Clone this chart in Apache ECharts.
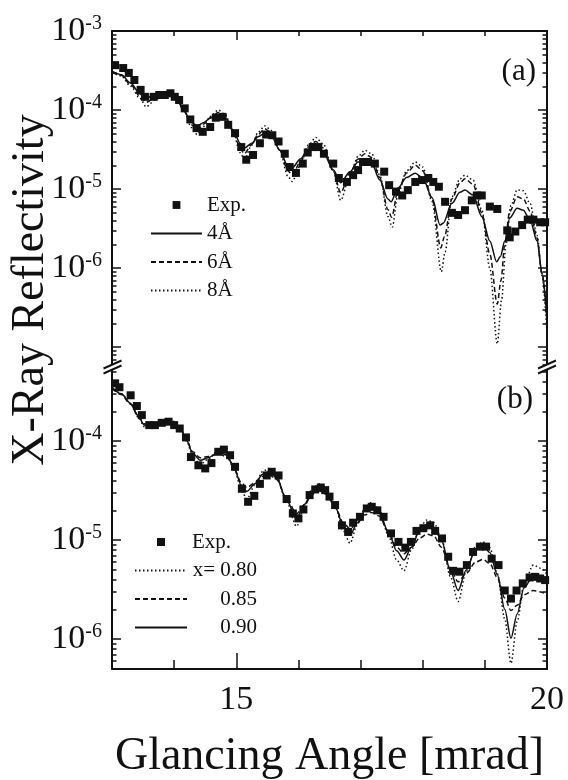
<!DOCTYPE html>
<html>
<head>
<meta charset="utf-8">
<title>X-Ray Reflectivity</title>
<script src="https://cdn.jsdelivr.net/npm/echarts@6.0.0/dist/echarts.min.js"></script>
<style>
  html, body { margin: 0; padding: 0; background: #fff; }
  #chart { width: 568px; height: 780px; }
</style>
</head>
<body>
<div id="chart"></div>
<script>
var FONT = '"Liberation Serif", "Times New Roman", serif';
var INK = '#111';

// ticks on the glancing angle axis
var xMajor = [15, 20];
var xMinor = [14, 16, 17, 18, 19];

// decades on the reflectivity axes
var yLabelsA = [1e-3, 1e-4, 1e-5, 1e-6];
var yMajorA = [1e-3, 1e-4, 1e-5, 1e-6, 1e-7];
var yLabelsB = [1e-4, 1e-5, 1e-6];
var yMajorB = [1e-4, 1e-5, 1e-6];
var yRangeA = [5.6e-8, 1.0005e-3];
var yRangeB = [5e-7, 5.6e-4];

// (a) measured points
var expA = [
  [13.05,3.7e-4],[13.18,3.4e-4],[13.27,2.95e-4],[13.36,2.4e-4],[13.46,1.8e-4],[13.53,1.47e-4],
  [13.67,1.47e-4],[13.76,1.55e-4],[13.85,1.55e-4],[13.94,1.63e-4],[14.01,1.47e-4],[14.08,1.34e-4],
  [14.17,1.05e-4],[14.26,7.6e-5],[14.36,5.9e-5],[14.46,5.3e-5],[14.58,6.1e-5],[14.67,8.0e-5],
  [14.78,8.2e-5],[14.87,6.5e-5],[14.98,5.1e-5],[15.08,3.4e-5],[15.16,2.35e-5],[15.27,2.7e-5],
  [15.38,3.8e-5],[15.48,4.9e-5],[15.58,4.8e-5],[15.68,4.0e-5],[15.78,2.8e-5],[15.86,1.9e-5],
  [15.96,1.6e-5],[16.07,2.1e-5],[16.15,2.9e-5],[16.23,3.4e-5],[16.32,3.4e-5],[16.41,2.8e-5],
  [16.56,2.1e-5],[16.65,1.38e-5],[16.78,1.23e-5],[16.88,1.5e-5],[16.96,1.74e-5],[17.04,2.2e-5],
  [17.12,2.2e-5],[17.23,2.1e-5],[17.38,1.66e-5],[17.46,1.12e-5],[17.57,9.3e-6],[17.67,8.3e-6],
  [17.76,9.7e-6],[17.88,1.23e-5],[17.99,1.3e-5],[18.09,1.38e-5],[18.17,1.23e-5],[18.26,1.07e-5],
  [18.36,6.9e-6],[18.47,5.0e-6],[18.57,4.7e-6],[18.68,5.4e-6],[18.79,7.2e-6],[18.87,8.3e-6],
  [18.95,8.3e-6],[19.08,6.0e-6],[19.20,5.6e-6],[19.36,3.0e-6],[19.40,2.45e-6],[19.49,2.9e-6],
  [19.60,3.5e-6],[19.69,4.1e-6],[19.78,4.1e-6],[19.89,3.8e-6],[19.97,3.8e-6]
];
// (a) fits, 4, 6 and 8 Angstrom
var fit4 = [
  [13.0,3.1e-4],[13.15,2.8e-4],[13.3,2.2e-4],[13.45,1.6e-4],[13.55,1.42e-4],[13.7,1.55e-4],
  [13.85,1.64e-4],[13.95,1.6e-4],[14.05,1.35e-4],[14.15,1.0e-4],[14.28,7.0e-5],[14.37,6.3e-5],
  [14.47,6.9e-5],[14.58,7.9e-5],[14.71,8.7e-5],[14.82,7.9e-5],[14.95,5.6e-5],[15.06,3.8e-5],
  [15.13,3.3e-5],[15.25,3.8e-5],[15.35,4.6e-5],[15.46,5.1e-5],[15.57,4.6e-5],[15.7,3.1e-5],
  [15.83,1.95e-5],[15.9,1.85e-5],[16.03,2.4e-5],[16.16,3.2e-5],[16.28,3.5e-5],[16.4,2.9e-5],
  [16.56,1.75e-5],[16.68,1.2e-5],[16.83,1.66e-5],[16.96,2.2e-5],[17.07,2.4e-5],[17.18,2.1e-5],
  [17.31,1.3e-5],[17.44,7.5e-6],[17.49,6.9e-6],[17.6,1.03e-5],[17.74,1.4e-5],[17.88,1.58e-5],
  [18.0,1.38e-5],[18.15,7.8e-6],[18.28,3.5e-6],[18.33,3.7e-6],[18.47,6.6e-6],[18.6,9.1e-6],
  [18.68,9.7e-6],[18.81,8.4e-6],[18.95,4.5e-6],[19.08,2.2e-6],[19.19,1.2e-6],[19.25,1.4e-6],
  [19.32,2.2e-6],[19.4,4.3e-6],[19.52,5.7e-6],[19.62,5.4e-6],[19.73,4.0e-6],[19.84,2.2e-6],
  [19.92,8.7e-7],[20.0,2.4e-7]
];
var fit6 = [
  [13.0,3.0e-4],[13.15,2.75e-4],[13.3,2.1e-4],[13.45,1.5e-4],[13.55,1.25e-4],[13.7,1.45e-4],
  [13.85,1.6e-4],[13.95,1.6e-4],[14.05,1.38e-4],[14.15,1.0e-4],[14.28,6.5e-5],[14.37,5.6e-5],
  [14.47,6.6e-5],[14.58,8.0e-5],[14.71,9.3e-5],[14.82,8.3e-5],[14.95,5.4e-5],[15.06,3.3e-5],
  [15.13,2.8e-5],[15.25,3.7e-5],[15.35,4.9e-5],[15.46,5.8e-5],[15.57,5.1e-5],[15.7,3.1e-5],
  [15.83,1.7e-5],[15.9,1.5e-5],[16.03,2.2e-5],[16.16,3.4e-5],[16.28,4.0e-5],[16.4,3.3e-5],
  [16.56,1.7e-5],[16.68,9.0e-6],[16.83,1.6e-5],[16.96,2.4e-5],[17.07,2.8e-5],[17.18,2.5e-5],
  [17.31,1.4e-5],[17.44,5.5e-6],[17.5,4.4e-6],[17.6,9.5e-6],[17.74,1.6e-5],[17.88,2.0e-5],
  [18.0,1.7e-5],[18.15,7.5e-6],[18.29,1.8e-6],[18.35,2.5e-6],[18.47,7.5e-6],[18.6,1.2e-5],
  [18.68,1.35e-5],[18.81,1.15e-5],[18.95,5.0e-6],[19.08,1.5e-6],[19.2,3.5e-7],[19.26,7.0e-7],
  [19.32,2.0e-6],[19.4,5.2e-6],[19.52,8.0e-6],[19.62,7.5e-6],[19.73,5.2e-6],[19.84,2.4e-6],
  [19.92,8.5e-7],[20.0,2.0e-7]
];
var fit8 = [
  [13.0,3.0e-4],[13.15,2.7e-4],[13.3,2.0e-4],[13.45,1.4e-4],[13.55,1.1e-4],[13.7,1.35e-4],
  [13.85,1.6e-4],[13.95,1.62e-4],[14.05,1.4e-4],[14.15,1.0e-4],[14.28,6.0e-5],[14.37,4.9e-5],
  [14.47,6.2e-5],[14.58,8.3e-5],[14.71,1.0e-4],[14.82,8.8e-5],[14.95,5.3e-5],[15.06,2.9e-5],
  [15.13,2.4e-5],[15.25,3.6e-5],[15.35,5.2e-5],[15.46,6.3e-5],[15.57,5.5e-5],[15.7,3.1e-5],
  [15.83,1.45e-5],[15.9,1.25e-5],[16.03,2.0e-5],[16.16,3.6e-5],[16.28,4.5e-5],[16.4,3.7e-5],
  [16.56,1.7e-5],[16.68,7.2e-6],[16.83,1.5e-5],[16.96,2.6e-5],[17.07,3.1e-5],[17.18,2.8e-5],
  [17.31,1.5e-5],[17.44,4.5e-6],[17.51,3.3e-6],[17.6,8.5e-6],[17.74,1.7e-5],[17.88,2.2e-5],
  [18.0,1.9e-5],[18.15,7.0e-6],[18.3,9.0e-7],[18.36,1.6e-6],[18.47,8.0e-6],[18.6,1.35e-5],
  [18.68,1.5e-5],[18.81,1.3e-5],[18.95,5.5e-6],[19.08,1.0e-6],[19.2,1.1e-7],[19.27,4.0e-7],
  [19.34,2.0e-6],[19.42,6.2e-6],[19.52,9.8e-6],[19.62,9.5e-6],[19.73,6.5e-6],[19.84,2.6e-6],
  [19.92,8.0e-7],[20.0,1.5e-7]
];

// (b) measured points
var expB = [
  [13.05,3.83e-4],[13.12,3.5e-4],[13.30,2.9e-4],[13.40,2.26e-4],[13.48,1.83e-4],[13.60,1.45e-4],
  [13.69,1.45e-4],[13.80,1.53e-4],[13.91,1.57e-4],[14.0,1.45e-4],[14.09,1.34e-4],[14.19,1.09e-4],
  [14.27,6.9e-5],[14.39,5.7e-5],[14.50,5.3e-5],[14.60,6.0e-5],[14.71,7.8e-5],[14.80,8.2e-5],
  [14.90,7.2e-5],[14.98,5.5e-5],[15.09,3.3e-5],[15.19,2.44e-5],[15.29,2.8e-5],[15.38,3.7e-5],
  [15.49,4.5e-5],[15.57,4.9e-5],[15.68,4.5e-5],[15.81,2.6e-5],[15.91,1.86e-5],[16.0,1.66e-5],
  [16.08,2.04e-5],[16.18,2.85e-5],[16.27,3.25e-5],[16.36,3.4e-5],[16.43,3.2e-5],[16.50,2.75e-5],
  [16.59,2.26e-5],[16.70,1.41e-5],[16.80,1.21e-5],[16.88,1.5e-5],[16.99,1.72e-5],[17.10,2.09e-5],
  [17.18,2.17e-5],[17.27,2.0e-5],[17.37,1.72e-5],[17.49,1.17e-5],[17.61,9.6e-6],[17.72,8.4e-6],
  [17.81,9.6e-6],[17.90,1.24e-5],[18.01,1.32e-5],[18.12,1.41e-5],[18.20,1.24e-5],[18.31,1.04e-5],
  [18.41,6.8e-6],[18.49,4.9e-6],[18.59,4.8e-6],[18.71,5.6e-6],[18.81,7.6e-6],[18.92,8.6e-6],
  [19.02,8.6e-6],[19.11,6.5e-6],[19.22,5.6e-6],[19.32,3.1e-6],[19.42,2.57e-6],[19.51,3.1e-6],
  [19.61,3.66e-6],[19.72,4.2e-6],[19.81,4.26e-6],[19.89,4.1e-6],[19.97,3.95e-6]
];
// (b) fits, x = 0.80, 0.85, 0.90
var fit080 = [
  [13.0,3.6e-4],[13.15,3.0e-4],[13.3,2.4e-4],[13.42,1.75e-4],[13.52,1.4e-4],[13.6,1.35e-4],
  [13.75,1.5e-4],[13.9,1.62e-4],[14.0,1.58e-4],[14.1,1.38e-4],[14.2,1.0e-4],[14.3,7.0e-5],
  [14.42,5.8e-5],[14.55,6.6e-5],[14.72,8.2e-5],[14.85,7.6e-5],[14.97,5.2e-5],[15.08,3.2e-5],
  [15.17,2.6e-5],[15.3,3.6e-5],[15.42,4.9e-5],[15.52,5.3e-5],[15.65,4.5e-5],[15.8,2.5e-5],
  [15.97,1.38e-5],[16.1,2.2e-5],[16.22,3.3e-5],[16.33,3.7e-5],[16.45,3.3e-5],[16.6,2.1e-5],
  [16.72,1.25e-5],[16.83,9.3e-6],[16.95,1.45e-5],[17.07,2.15e-5],[17.18,2.4e-5],[17.3,2.05e-5],
  [17.45,1.1e-5],[17.58,6.3e-6],[17.7,4.9e-6],[17.82,8.0e-6],[17.95,1.35e-5],[18.07,1.6e-5],
  [18.18,1.5e-5],[18.3,1.05e-5],[18.45,4.2e-6],[18.57,2.4e-6],[18.7,4.8e-6],[18.85,8.6e-6],
  [18.97,9.6e-6],[19.08,8.4e-6],[19.2,4.6e-6],[19.32,1.6e-6],[19.42,5.7e-7],[19.52,1.5e-6],
  [19.63,3.6e-6],[19.78,5.6e-6],[19.9,5.2e-6],[20.0,4.5e-6]
];
var fit085 = [
  [13.0,3.4e-4],[13.15,2.95e-4],[13.3,2.35e-4],[13.42,1.8e-4],[13.52,1.5e-4],[13.6,1.45e-4],
  [13.75,1.5e-4],[13.9,1.55e-4],[14.0,1.5e-4],[14.1,1.32e-4],[14.2,1.02e-4],[14.3,7.8e-5],
  [14.42,6.8e-5],[14.55,7.0e-5],[14.72,7.5e-5],[14.85,6.9e-5],[14.97,5.2e-5],[15.08,3.8e-5],
  [15.17,3.4e-5],[15.3,3.8e-5],[15.42,4.4e-5],[15.52,4.6e-5],[15.65,4.1e-5],[15.8,2.7e-5],
  [15.97,1.85e-5],[16.1,2.3e-5],[16.22,2.9e-5],[16.33,3.15e-5],[16.45,2.9e-5],[16.6,2.1e-5],
  [16.72,1.5e-5],[16.83,1.3e-5],[16.95,1.5e-5],[17.07,1.8e-5],[17.18,1.9e-5],[17.3,1.75e-5],
  [17.45,1.2e-5],[17.58,8.5e-6],[17.7,7.3e-6],[17.82,8.5e-6],[17.95,1.05e-5],[18.07,1.15e-5],
  [18.18,1.1e-5],[18.3,8.5e-6],[18.45,5.0e-6],[18.57,3.8e-6],[18.7,4.6e-6],[18.85,6.0e-6],
  [18.97,6.4e-6],[19.08,5.8e-6],[19.2,4.2e-6],[19.32,2.6e-6],[19.42,1.95e-6],[19.52,2.2e-6],
  [19.63,2.8e-6],[19.78,3.1e-6],[19.9,3.0e-6],[20.0,2.8e-6]
];
var fit090 = [
  [13.0,3.5e-4],[13.15,3.0e-4],[13.3,2.4e-4],[13.42,1.8e-4],[13.52,1.45e-4],[13.6,1.4e-4],
  [13.75,1.5e-4],[13.9,1.6e-4],[14.0,1.55e-4],[14.1,1.35e-4],[14.2,1.02e-4],[14.3,7.5e-5],
  [14.42,6.4e-5],[14.55,6.8e-5],[14.72,7.8e-5],[14.85,7.2e-5],[14.97,5.2e-5],[15.08,3.6e-5],
  [15.17,3.1e-5],[15.3,3.7e-5],[15.42,4.6e-5],[15.52,4.9e-5],[15.65,4.3e-5],[15.8,2.6e-5],
  [15.97,1.66e-5],[16.1,2.3e-5],[16.22,3.1e-5],[16.33,3.45e-5],[16.45,3.1e-5],[16.6,2.1e-5],
  [16.72,1.4e-5],[16.83,1.12e-5],[16.95,1.5e-5],[17.07,2.0e-5],[17.18,2.17e-5],[17.3,1.9e-5],
  [17.45,1.2e-5],[17.58,7.8e-6],[17.7,6.3e-6],[17.82,8.5e-6],[17.95,1.25e-5],[18.07,1.45e-5],
  [18.18,1.35e-5],[18.3,1.0e-5],[18.45,4.8e-6],[18.57,3.1e-6],[18.7,5.0e-6],[18.85,8.0e-6],
  [18.97,8.9e-6],[19.08,7.5e-6],[19.2,4.5e-6],[19.32,2.0e-6],[19.42,1.02e-6],[19.52,1.8e-6],
  [19.63,3.3e-6],[19.78,4.4e-6],[19.9,4.2e-6],[20.0,3.8e-6]
];

var chart = echarts.init(document.getElementById('chart'));

// 2..9 x 10^n inside the range, for the short ticks
function minorTicks(range) {
  var out = [];
  for (var e = -9; e <= -2; e++) {
    for (var k = 2; k <= 9; k++) {
      var v = k * Math.pow(10, e);
      if (v > range[0] && v < range[1]) out.push(v);
    }
  }
  return out;
}

function decade(v) {
  var e = Math.round(Math.log(v) / Math.LN10);
  return '{b|10}{s|' + e + '}';
}

function yAxis(grid, side, range, ticks, len, line, labels) {
  return {
    type: 'log',
    logBase: 10,
    gridIndex: grid,
    position: side,
    min: range[0],
    max: range[1],
    axisLine: { show: line, onZero: false, lineStyle: { color: INK, width: 2 } },
    axisTick: { show: true, inside: true, length: len, customValues: ticks,
      lineStyle: { color: INK, width: 1.5 } },
    axisLabel: labels ? {
      customValues: labels,
      margin: 10,
      formatter: decade,
      rich: {
        b: { fontFamily: FONT, fontSize: 34, lineHeight: 34, color: INK },
        s: { fontFamily: FONT, fontSize: 20, lineHeight: 20, color: INK, verticalAlign: 'top' }
      }
    } : { show: false },
    splitLine: { show: false },
    minorTick: { show: false }
  };
}

function xAxis(grid, side, ticks, len, line, labels) {
  return {
    type: 'value',
    gridIndex: grid,
    position: side,
    min: 13,
    max: 20,
    axisLine: { show: line, onZero: false, lineStyle: { color: INK, width: 2 } },
    axisTick: { show: true, inside: true, length: len, customValues: ticks,
      lineStyle: { color: INK, width: 1.5 } },
    axisLabel: labels ? {
      customValues: labels, margin: 14,
      fontFamily: FONT, fontSize: 34, color: INK
    } : { show: false },
    splitLine: { show: false }
  };
}

function curve(name, data, dash, xi, yi) {
  return {
    name: name, type: 'line', data: data,
    xAxisIndex: xi, yAxisIndex: yi,
    symbol: 'none', showSymbol: false,
    smooth: 0.3, smoothMonotone: 'x',
    lineStyle: { color: INK, width: 1.5, type: dash },
    itemStyle: { color: INK },
    silent: true, z: 2
  };
}

function points(name, data, xi, yi) {
  return {
    name: name, type: 'scatter', data: data,
    xAxisIndex: xi, yAxisIndex: yi,
    symbol: 'rect', symbolSize: 8,
    itemStyle: { color: INK, opacity: 1 },
    silent: true, z: 3
  };
}

// the // marks where the axis is broken between the panels
function breakMarks(x) {
  return [
    { type: 'polygon', z: 100, shape: { points: [[x - 9, 368.5], [x + 9, 360.5], [x + 9, 365.5], [x - 9, 373.5]] },
      style: { fill: '#fff' } },
    { type: 'line', z: 101, shape: { x1: x - 9, y1: 368.5, x2: x + 9, y2: 360.5 }, style: { stroke: INK, lineWidth: 2 } },
    { type: 'line', z: 101, shape: { x1: x - 9, y1: 373.5, x2: x + 9, y2: 365.5 }, style: { stroke: INK, lineWidth: 2 } }
  ];
}

var legendText = { fontFamily: FONT, fontSize: 21, lineHeight: 22, color: INK };
var DASH = [5, 3];
var DOT = [1.5, 2.5];
// an 8px square in the middle of a 52x8 box, so the legend does not stretch it
var SQUARE = 'path://M0,0M52,8M22,0h8v8h-8z';

var option = {
  animation: false,
  backgroundColor: '#fff',
  grid: [
    { left: 112, top: 31, width: 435, height: 336, outerBoundsMode: 'none' },
    { left: 112, top: 367, width: 435, height: 302, outerBoundsMode: 'none' }
  ],
  xAxis: [
    xAxis(0, 'top', [15], 9, true, null),
    xAxis(0, 'top', xMinor, 5, false, null),
    Object.assign(xAxis(1, 'bottom', xMajor, 16, true, xMajor), {
      name: 'Glancing Angle [mrad]',
      nameLocation: 'middle',
      nameGap: 65,
      nameTextStyle: { fontFamily: FONT, fontSize: 46, color: INK }
    }),
    xAxis(1, 'bottom', xMinor, 9, false, null)
  ],
  yAxis: [
    yAxis(0, 'left', yRangeA, yMajorA, 9, true, yLabelsA),
    yAxis(0, 'left', yRangeA, minorTicks(yRangeA), 4.5, false, null),
    yAxis(0, 'right', yRangeA, yMajorA, 9, true, null),
    yAxis(0, 'right', yRangeA, minorTicks(yRangeA), 4.5, false, null),
    yAxis(1, 'left', yRangeB, yMajorB, 9, true, yLabelsB),
    yAxis(1, 'left', yRangeB, minorTicks(yRangeB), 4.5, false, null),
    yAxis(1, 'right', yRangeB, yMajorB, 9, true, null),
    yAxis(1, 'right', yRangeB, minorTicks(yRangeB), 4.5, false, null)
  ],
  legend: [
    {
      orient: 'vertical', left: 150, top: 194, padding: 0,
      itemWidth: 51, itemHeight: 8, itemGap: 6.5, selectedMode: false,
      textStyle: legendText,
      data: [
        { name: 'Exp.', icon: SQUARE, itemStyle: { opacity: 1 } },
        { name: '4Å', itemStyle: { opacity: 0 } },
        { name: '6Å', itemStyle: { opacity: 0 } },
        { name: '8Å', itemStyle: { opacity: 0 } }
      ]
    },
    {
      orient: 'vertical', left: 134, top: 531, padding: 0,
      itemWidth: 52, itemHeight: 8, itemGap: 6.5, selectedMode: false,
      textStyle: Object.assign({}, legendText, {
        rich: {
          t: legendText,
          r: Object.assign({}, legendText, { width: 65, align: 'right' })
        }
      }),
      formatter: function (name) {
        return name === 'Exp.(b)' ? '{t|Exp.}' : '{r|' + name + '}';
      },
      data: [
        { name: 'Exp.(b)', icon: SQUARE, itemStyle: { opacity: 1 } },
        { name: 'x= 0.80', itemStyle: { opacity: 0 } },
        { name: '0.85', itemStyle: { opacity: 0 } },
        { name: '0.90', itemStyle: { opacity: 0 } }
      ]
    }
  ],
  graphic: [
    { type: 'text', x: 31, y: 290, rotation: Math.PI / 2,
      style: { text: 'X-Ray Reflectivity', fontFamily: FONT, fontSize: 46, fill: INK,
        align: 'center', verticalAlign: 'middle' } },
    { type: 'text', x: 536, y: 72,
      style: { text: '(a)', fontFamily: FONT, fontSize: 31, fill: INK, align: 'right', verticalAlign: 'middle' } },
    { type: 'text', x: 533, y: 400,
      style: { text: '(b)', fontFamily: FONT, fontSize: 31, fill: INK, align: 'right', verticalAlign: 'middle' } }
  ].concat(breakMarks(112.5), breakMarks(547)),
  series: [
    points('Exp.', expA, 0, 0),
    curve('4Å', fit4, 'solid', 0, 0),
    curve('6Å', fit6, DASH, 0, 0),
    curve('8Å', fit8, DOT, 0, 0),
    points('Exp.(b)', expB, 2, 4),
    curve('x= 0.80', fit080, DOT, 2, 4),
    curve('0.85', fit085, DASH, 2, 4),
    curve('0.90', fit090, 'solid', 2, 4)
  ]
};

chart.setOption(option);
</script>
</body>
</html>
